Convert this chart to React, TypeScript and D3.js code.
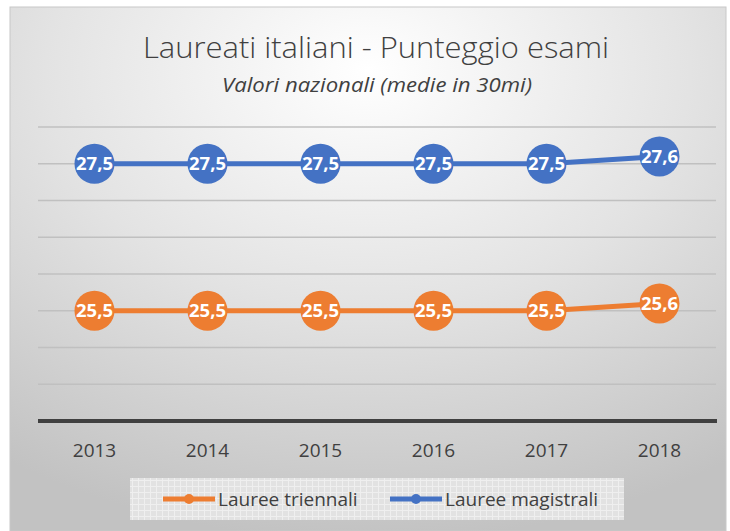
import React from 'react';
import * as d3 from 'd3';

const years = ['2013', '2014', '2015', '2016', '2017', '2018'];
const triennali = [25.5, 25.5, 25.5, 25.5, 25.5, 25.6];
const magistrali = [27.5, 27.5, 27.5, 27.5, 27.5, 27.6];
const seriesNames = ['Lauree triennali', 'Lauree magistrali'];
const seriesColors = ['#ED7D31', '#4472C4'];
const gridTicks = [24.5, 25, 25.5, 26, 26.5, 27, 27.5, 28];

export default function App() {
  const W = 730, H = 531;
  const x = d3.scaleBand().domain(years).range([38, 716]);
  const y = d3.scaleLinear().domain([24, 28]).range([421, 127]);
  const line = d3.line<number>()
    .x((d, i) => x(years[i])! + x.bandwidth() / 2)
    .y(d => y(d));
  const series = [triennali, magistrali];
  const font = '"Open Sans", Calibri, sans-serif';
  const fmt = (v: number) => v.toFixed(1).replace('.', ',');

  return (
    <svg width={W} height={H} style={{position: 'absolute', left: 0, top: 0}}>
      <defs>
        <radialGradient id="bg" cx="0.5" cy="0.12" r="0.9" fx="0.5" fy="0.12">
          <stop offset="0" stopColor="#ffffff" />
          <stop offset="0.5" stopColor="#e3e3e3" />
          <stop offset="1" stopColor="#c2c2c2" />
        </radialGradient>
        <pattern id="grid" width="6" height="6" patternUnits="userSpaceOnUse">
          <rect width="6" height="6" fill="#e2e2e2" />
          <path d="M0 0.5H6M0.5 0V6" stroke="#efefef" strokeWidth="1" />
        </pattern>
      </defs>
      <rect x={0} y={0} width={W} height={H} fill="#fff" />
      <rect x={10} y={7} width={716} height={524} fill="url(#bg)" stroke="#c8c8c8" />
      <text x={376} y={58} textAnchor="middle" fontFamily={font} fontSize={30}
        fontWeight={300} fill="#404040" textLength={466} lengthAdjust="spacingAndGlyphs">
        Laureati italiani - Punteggio esami
      </text>
      <text x={377} y={92} textAnchor="middle" fontFamily={font} fontSize={20}
        fontStyle="italic" fill="#404040" textLength={310} lengthAdjust="spacingAndGlyphs">
        Valori nazionali (medie in 30mi)
      </text>
      {gridTicks.map(t => (
        <line key={t} x1={38} x2={716} y1={y(t)} y2={y(t)} stroke="#c0c0c0" strokeWidth={1.5} />
      ))}
      <line x1={38} x2={717} y1={y(24)} y2={y(24)} stroke="#404040" strokeWidth={4} />
      {years.map(yr => (
        <text key={yr} x={x(yr)! + x.bandwidth() / 2} y={457} textAnchor="middle"
          fontFamily={font} fontSize={19} fill="#404040">{yr}</text>
      ))}
      {series.map((s, si) => (
        <g key={si}>
          <path d={line(s)!} fill="none" stroke={seriesColors[si]} strokeWidth={5} />
          {s.map((v, i) => (
            <g key={i}>
              <circle cx={x(years[i])! + x.bandwidth() / 2} cy={y(v)} r={20} fill={seriesColors[si]} />
              <text x={x(years[i])! + x.bandwidth() / 2} y={y(v) + 6.5} textAnchor="middle"
                fontFamily={font} fontSize={18.5} fontWeight={700} fill="#fff">{fmt(v)}</text>
            </g>
          ))}
        </g>
      ))}
      <rect x={130} y={478} width={494} height={42} fill="url(#grid)" />
      {seriesNames.map((n, i) => {
        const lx = i === 0 ? 163 : 390;
        return (
          <g key={n}>
            <line x1={lx} x2={lx + 52} y1={499} y2={499} stroke={seriesColors[i]} strokeWidth={5} />
            <circle cx={lx + 26} cy={499} r={5} fill={seriesColors[i]} />
            <text x={lx + 55} y={506} fontFamily={font} fontSize={19} fill="#404040">{n}</text>
          </g>
        );
      })}
    </svg>
  );
}
